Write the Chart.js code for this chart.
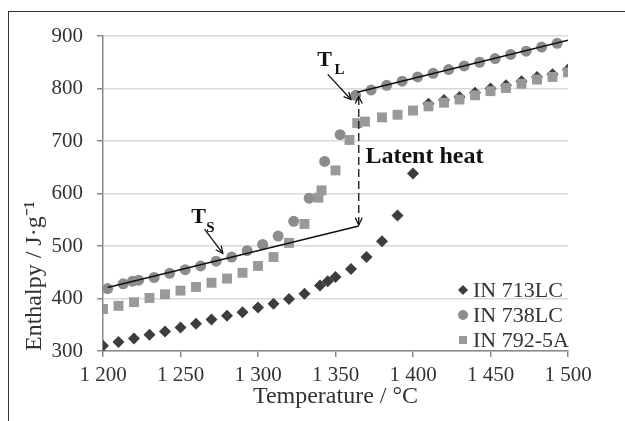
<!DOCTYPE html>
<html>
<head>
<meta charset="utf-8">
<script src="https://cdn.jsdelivr.net/npm/chart.js@4.4.0/dist/chart.umd.min.js"></script>
<style>
  html, body { margin: 0; padding: 0; background: #fff; }
  #wrap { position: relative; width: 625px; height: 421px; }
  #frame { position: absolute; left: 8px; top: 11px; right: 0; bottom: 0;
           border-left: 1.5px solid #333; border-top: 1.5px solid #333; pointer-events: none; }
</style>
</head>
<body>
<div id="wrap">
  <canvas id="chart" width="625" height="421"></canvas>
  <div id="frame"></div>
</div>
<script>
// IN 713LC (rombos)
const tempsA = [1200, 1210, 1220, 1230, 1240, 1250, 1260, 1270, 1280, 1290, 1300, 1310, 1320, 1330,
  1340, 1345, 1350, 1360, 1370, 1380, 1390, 1400, 1410, 1420, 1430, 1440, 1450, 1460, 1470, 1480, 1490, 1500];
const enthalpyA = [310, 317, 324, 331, 337, 345, 352, 360, 367, 374, 383, 390, 399, 409,
  425, 433, 441, 456, 479, 509, 558, 638, 771, 778, 784, 792, 800, 806, 814, 822, 827, 836];

// IN 738LC (círculos)
const tempsB = [1203, 1213, 1219, 1223, 1233, 1243, 1253, 1263, 1273, 1283, 1293, 1303, 1313, 1323,
  1333, 1343, 1353, 1363, 1373, 1383, 1393, 1403, 1413, 1423, 1433, 1443, 1453, 1463, 1473, 1483, 1493];
const enthalpyB = [419, 428, 433, 435, 440, 448, 455, 462, 471, 479, 491, 503, 519, 547,
  591, 661, 712, 787, 797, 806, 814, 822, 829, 836, 843, 850, 857, 865, 871, 879, 886];

// IN 792-5A (cuadrados)
const tempsC = [1200, 1210, 1220, 1230, 1240, 1250, 1260, 1270, 1280, 1290, 1300, 1310, 1320, 1330,
  1339, 1341, 1350, 1359, 1364, 1369, 1380, 1390, 1400, 1410, 1420, 1430, 1440, 1450, 1460, 1470, 1480, 1490, 1500];
const enthalpyC = [380, 386, 393, 401, 408, 415, 422, 430, 438, 449, 462, 479, 506, 542,
  592, 606, 644, 702, 734, 737, 745, 750, 758, 766, 773, 779, 787, 795, 801, 809, 817, 822, 831];

const seriesNames = ['IN 713LC', 'IN 738LC', 'IN 792-5A'];

// Rectas de sólido / líquido y calor latente
const solidusT = [1203, 1365];
const solidusH = [421, 538];
const liquidusT = [1364, 1500];
const liquidusH = [793, 892];
const latentT = [1365, 1365];
const latentH = [540, 785];

// Flechas de las etiquetas [T1, H1, T2, H2]
const arrowTs = [1265.5, 532, 1277.3, 486];
const arrowTl = [1345, 827, 1360, 779];

const serif = "'Liberation Serif', 'Times New Roman', serif";

const toPoints = (xs, ys) => xs.map((x, i) => ({ x: x, y: ys[i] }));
const spaced = v => String(v).replace(/\B(?=(\d{3})+(?!\d))/g, ' ');

function arrowHead(ctx, x1, y1, x2, y2, len) {
  const a = Math.atan2(y2 - y1, x2 - x1);
  ctx.beginPath();
  ctx.moveTo(x2 - len * Math.cos(a - 0.45), y2 - len * Math.sin(a - 0.45));
  ctx.lineTo(x2, y2);
  ctx.lineTo(x2 - len * Math.cos(a + 0.45), y2 - len * Math.sin(a + 0.45));
  ctx.stroke();
}

const annotations = {
  id: 'annotations',
  afterDatasetsDraw(chart) {
    const { ctx, scales } = chart;
    const px = v => scales.x.getPixelForValue(v);
    const py = v => scales.y.getPixelForValue(v);
    ctx.save();
    ctx.strokeStyle = '#111';
    ctx.lineWidth = 1.3;

    // puntas de la flecha discontinua
    const lx = px(latentT[0]);
    arrowHead(ctx, lx, py(latentH[1]), lx, py(latentH[0]), 8);
    arrowHead(ctx, lx, py(latentH[0]), lx, py(latentH[1]), 8);

    [arrowTs, arrowTl].forEach(a => {
      const x1 = px(a[0]), y1 = py(a[1]), x2 = px(a[2]), y2 = py(a[3]);
      ctx.beginPath();
      ctx.moveTo(x1, y1);
      ctx.lineTo(x2, y2);
      ctx.stroke();
      arrowHead(ctx, x1, y1, x2, y2, 8);
    });

    ctx.fillStyle = '#111';
    ctx.textBaseline = 'alphabetic';
    ctx.font = 'bold 22px ' + serif;
    ctx.fillText('T', px(1257), py(543.8));
    ctx.fillText('T', px(1338.3), py(842.6));
    ctx.font = 'bold 15px ' + serif;
    ctx.fillText('S', px(1266.6), py(526.6));
    ctx.fillText('L', px(1349.3), py(826.8));
    ctx.font = 'bold 24px ' + serif;
    ctx.fillText('Latent heat', px(1369.3), py(658.5));
    ctx.restore();
  }
};

function drawMarker(ctx, style, x, y, r) {
  ctx.beginPath();
  if (style === 'circle') {
    ctx.arc(x, y, r, 0, Math.PI * 2);
  } else if (style === 'rect') {
    ctx.rect(x - r * 0.8, y - r * 0.8, r * 1.6, r * 1.6);
  } else {
    ctx.moveTo(x, y - r); ctx.lineTo(x + r, y); ctx.lineTo(x, y + r); ctx.lineTo(x - r, y);
    ctx.closePath();
  }
  ctx.fill();
}

const insideLegend = {
  id: 'insideLegend',
  afterDraw(chart) {
    const { ctx, chartArea } = chart;
    const items = chart.data.datasets.filter(d => seriesNames.includes(d.label));
    ctx.save();
    ctx.font = '22px ' + serif;
    ctx.textBaseline = 'middle';
    items.forEach((d, i) => {
      const x = chartArea.right - 105;
      const y = chartArea.bottom - 61 + i * 25;
      ctx.fillStyle = d.backgroundColor;
      drawMarker(ctx, d.pointStyle, x, y, 5);
      ctx.fillStyle = '#333';
      ctx.fillText(d.label, x + 10, y + 1);
    });
    ctx.restore();
  }
};

const lineStyle = { showLine: true, borderColor: '#111', borderWidth: 1.5, pointRadius: 0, pointHoverRadius: 0, fill: false };

new Chart(document.getElementById('chart'), {
  type: 'scatter',
  data: {
    datasets: [
      { label: 'solidus', data: toPoints(solidusT, solidusH), ...lineStyle, order: 0 },
      { label: 'liquidus', data: toPoints(liquidusT, liquidusH), ...lineStyle, order: 0 },
      { label: 'latent', data: toPoints(latentT, latentH), ...lineStyle, borderWidth: 1.3, borderDash: [8, 4], order: 0 },
      { label: seriesNames[0], data: toPoints(tempsA, enthalpyA), pointStyle: 'rectRot', pointRadius: 6,
        backgroundColor: '#3d3d3d', borderWidth: 0, order: 3 },
      { label: seriesNames[1], data: toPoints(tempsB, enthalpyB), pointStyle: 'circle', pointRadius: 5.5,
        backgroundColor: '#8c8c8c', borderWidth: 0, order: 2 },
      { label: seriesNames[2], data: toPoints(tempsC, enthalpyC), pointStyle: 'rect', pointRadius: 7,
        backgroundColor: '#999999', borderWidth: 0, order: 1 }
    ]
  },
  options: {
    responsive: false,
    animation: false,
    devicePixelRatio: 1,
    layout: { padding: { left: 0, top: 36, right: 57, bottom: 0 } },
    plugins: { legend: { display: false }, tooltip: { enabled: false } },
    scales: {
      x: {
        type: 'linear',
        min: 1200,
        max: 1500,
        ticks: { stepSize: 50, color: '#333', padding: 6, font: { family: serif, size: 21 }, callback: spaced },
        grid: { drawOnChartArea: false, tickLength: 6, tickColor: '#888', lineWidth: 1.5 },
        border: { color: '#888', width: 1.5 },
        title: { display: true, text: 'Temperature / °C', color: '#333',
                 font: { family: serif, size: 24 }, padding: { top: 0, bottom: 10 } },
        afterFit(scale) { scale.height = 70; }
      },
      y: {
        min: 300,
        max: 900,
        ticks: { stepSize: 100, color: '#333', padding: 14, font: { family: serif, size: 21 } },
        grid: { color: '#d9d9d9', lineWidth: 1.5, tickLength: 6, tickColor: '#888' },
        border: { color: '#888', width: 1.5 },
        title: { display: true, text: 'Enthalpy / J·g⁻¹', color: '#333', align: 'start',
                 font: { family: serif, size: 24 }, padding: { top: 20, bottom: 0 } },
        afterFit(scale) { scale.width = 103; }
      }
    }
  },
  plugins: [annotations, insideLegend]
});
</script>
</body>
</html>
